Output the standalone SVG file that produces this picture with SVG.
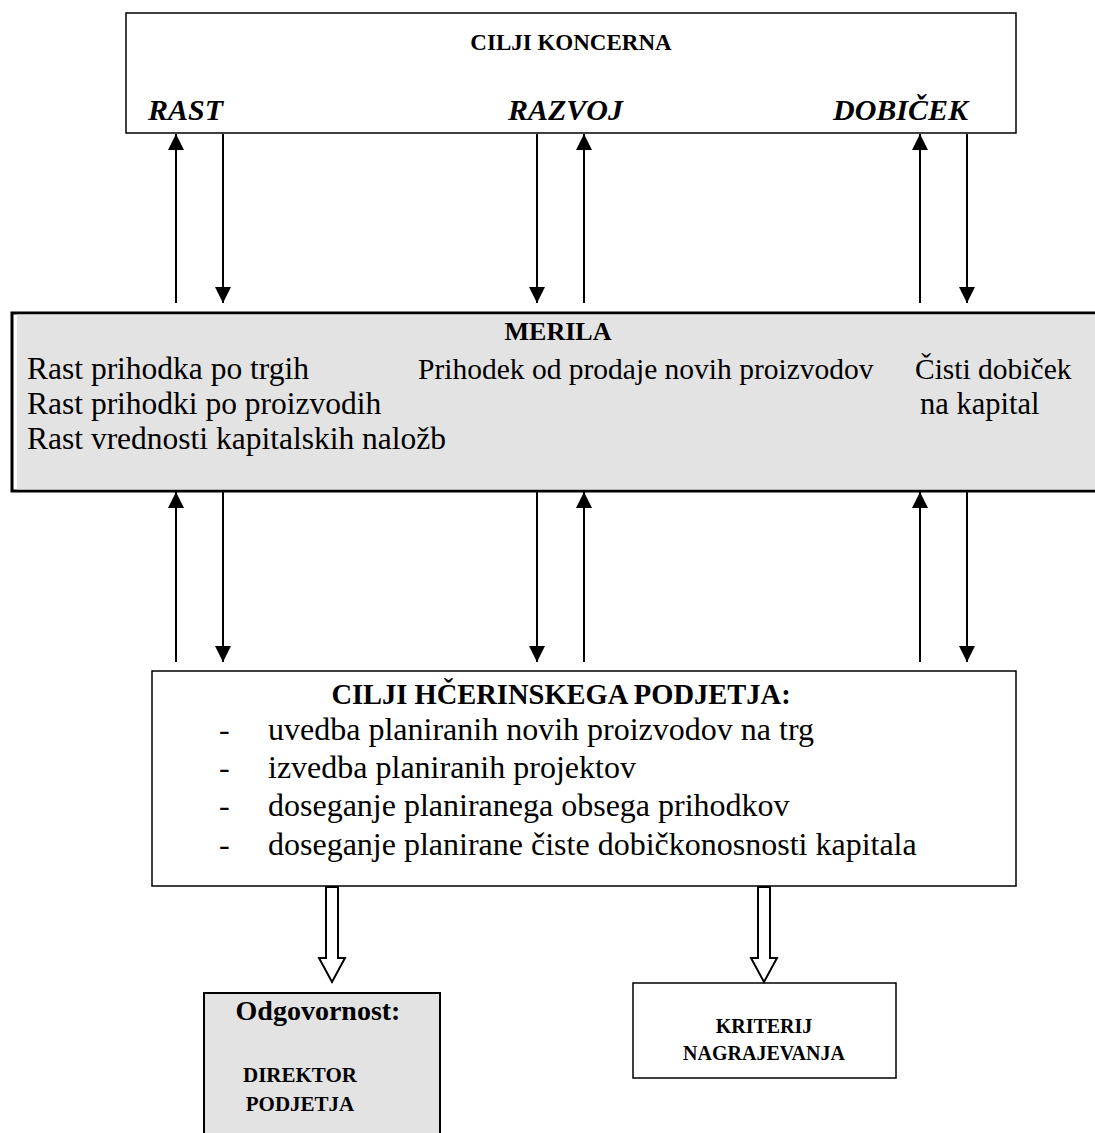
<svg xmlns="http://www.w3.org/2000/svg" width="1095" height="1133" viewBox="0 0 1095 1133">
  <style>
    .box { fill: #ffffff; stroke: #000000; stroke-width: 1.5; }
    .gray { fill: #e3e3e3; stroke: #000000; }
    .t { font-family: "Liberation Serif", "Times New Roman", serif; fill: #000000; }
    .b { font-weight: bold; }
    .bi { font-weight: bold; font-style: italic; }
    .mid { text-anchor: middle; }
    .link { stroke: #000000; stroke-width: 2; fill: none; }
    .hollow { fill: #ffffff; stroke: #000000; stroke-width: 2; stroke-linejoin: miter; }
  </style>
  <defs>
    <marker id="head" markerUnits="userSpaceOnUse" markerWidth="16" markerHeight="16" refX="16" refY="8" orient="auto">
      <path d="M0,0 L16,8 L0,16 z" fill="#000000"/>
    </marker>
  </defs>

  <rect width="1095" height="1133" fill="#ffffff"/>

  <!-- group goals -->
  <g id="cilji-koncerna">
    <rect class="box" x="126" y="13" width="890" height="120"/>
    <text class="t b mid" x="571" y="50" font-size="23">CILJI KONCERNA</text>
    <text class="t bi" x="148" y="120" font-size="30">RAST</text>
    <text class="t bi" x="508" y="120" font-size="30">RAZVOJ</text>
    <text class="t bi" x="833" y="120" font-size="30">DOBIČEK</text>
  </g>

  <!-- measures -->
  <g id="merila">
    <rect x="12" y="313" width="1090" height="178" fill="#ffffff" stroke="#000000" stroke-width="3"/>
    <rect x="17" y="314.5" width="1080" height="175" fill="#e3e3e3"/>
    <text class="t b mid" x="558" y="340" font-size="26">MERILA</text>
    <text class="t" x="27" y="379" font-size="31.5">Rast prihodka po trgih</text>
    <text class="t" x="27" y="414" font-size="31.5">Rast prihodki po proizvodih</text>
    <text class="t" x="27" y="449" font-size="31.5">Rast vrednosti kapitalskih naložb</text>
    <text class="t" x="418" y="379" font-size="29.5">Prihodek od prodaje novih proizvodov</text>
    <text class="t" x="915" y="379" font-size="29.5">Čisti dobiček</text>
    <text class="t" x="920" y="414" font-size="30.5">na kapital</text>
  </g>

  <!-- subsidiary goals -->
  <g id="cilji-hcerinskega">
    <rect class="box" x="152" y="671" width="864" height="215"/>
    <text class="t b mid" x="561" y="704" font-size="28.5">CILJI HČERINSKEGA PODJETJA:</text>
    <text class="t" x="219" y="740" font-size="32">-</text>
    <text class="t" x="268" y="740" font-size="32">uvedba planiranih novih proizvodov na trg</text>
    <text class="t" x="219" y="778" font-size="32">-</text>
    <text class="t" x="268" y="778" font-size="32">izvedba planiranih projektov</text>
    <text class="t" x="219" y="816" font-size="32">-</text>
    <text class="t" x="268" y="816" font-size="32">doseganje planiranega obsega prihodkov</text>
    <text class="t" x="219" y="855" font-size="32">-</text>
    <text class="t" x="268" y="855" font-size="32">doseganje planirane čiste dobičkonosnosti kapitala</text>
  </g>

  <!-- responsibility -->
  <g id="odgovornost">
    <rect class="gray" x="204" y="993" width="236" height="150" stroke-width="2"/>
    <text class="t b mid" x="318" y="1020" font-size="28">Odgovornost:</text>
    <text class="t b mid" x="300" y="1082" font-size="21">DIREKTOR</text>
    <text class="t b mid" x="300" y="1111" font-size="21">PODJETJA</text>
  </g>

  <!-- reward criterion -->
  <g id="kriterij">
    <rect class="box" x="633" y="983" width="263" height="95" stroke-width="2"/>
    <text class="t b mid" x="764" y="1033" font-size="20">KRITERIJ</text>
    <text class="t b mid" x="764" y="1060" font-size="20">NAGRAJEVANJA</text>
  </g>

  <!-- connectors -->
  <g id="connectors">
    <!-- between group goals and measures -->
    <line class="link" x1="176" y1="303" x2="176" y2="134" marker-end="url(#head)"/>
    <line class="link" x1="223" y1="134" x2="223" y2="303" marker-end="url(#head)"/>
    <line class="link" x1="537" y1="134" x2="537" y2="303" marker-end="url(#head)"/>
    <line class="link" x1="584" y1="303" x2="584" y2="134" marker-end="url(#head)"/>
    <line class="link" x1="920" y1="303" x2="920" y2="134" marker-end="url(#head)"/>
    <line class="link" x1="967" y1="134" x2="967" y2="303" marker-end="url(#head)"/>
    <!-- between measures and subsidiary goals -->
    <line class="link" x1="176" y1="662" x2="176" y2="492" marker-end="url(#head)"/>
    <line class="link" x1="223" y1="492" x2="223" y2="662" marker-end="url(#head)"/>
    <line class="link" x1="537" y1="492" x2="537" y2="662" marker-end="url(#head)"/>
    <line class="link" x1="584" y1="662" x2="584" y2="492" marker-end="url(#head)"/>
    <line class="link" x1="920" y1="662" x2="920" y2="492" marker-end="url(#head)"/>
    <line class="link" x1="967" y1="492" x2="967" y2="662" marker-end="url(#head)"/>
    <!-- hollow block arrows -->
    <path class="hollow" d="M326,887 L338,887 L338,958 L345,958 L332,982 L319,958 L326,958 Z"/>
    <path class="hollow" d="M758,887 L770,887 L770,958 L777,958 L764,982 L751,958 L758,958 Z"/>
  </g>
</svg>
